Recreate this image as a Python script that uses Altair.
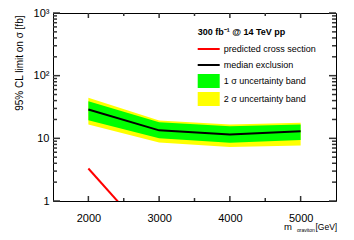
import altair as alt
import pandas as pd

FONT = "Liberation Sans"
W, H = 283, 188

# ---- data ----
mass = [2000, 3000, 4000, 5000]
median = [28.9, 13.4, 11.5, 13.0]
band1_lo = [19.5, 10.0, 8.5, 9.4]
band1_hi = [39.0, 18.1, 15.6, 16.6]
band2_lo = [16.6, 8.6, 7.3, 7.7]
band2_hi = [44.3, 19.3, 16.6, 17.7]
xsec_mass = [2000, 3000]
xsec = [3.3, 0.18]

x_major = [2000, 3000, 4000, 5000]
x_minor = [2500, 3500, 4500]
y_major = [1, 10, 100, 1000]
y_major_labels = ["1", "10", "10²", "10³"]
y_minor = [2, 3, 4, 5, 6, 7, 8, 9,
           20, 30, 40, 50, 60, 70, 80, 90,
           200, 300, 400, 500, 600, 700, 800, 900]

legend_title = "300 fb⁻¹ @ 14 TeV pp"
legend_labels = ["predicted cross section", "median exclusion",
                 "1 σ uncertainty band", "2 σ uncertainty band"]
legend_colors = ["#ff0000", "#000000", "#00ff00", "#ffff00"]
legend_kinds = ["line", "line", "box", "box"]

y_title = "95% CL limit on σ [fb]"
x_title_parts = ["m", "graviton", "[GeV]"]

# ---- tables ----
df = pd.DataFrame({"mass": mass, "median": median,
                   "b1lo": band1_lo, "b1hi": band1_hi,
                   "b2lo": band2_lo, "b2hi": band2_hi})
df_xs = pd.DataFrame({"mass": xsec_mass, "xsec": xsec})
df_leg = pd.DataFrame({"entry": legend_labels})

xs = alt.Scale(domain=[1500, 5500], nice=False, zero=False)
ys = alt.Scale(type="log", domain=[1, 1000], nice=False)

label_expr = " : ".join(
    f"datum.value == {v} ? '{t}'" for v, t in zip(y_major, y_major_labels)
) + " : datum.label"

ax_x_lab = alt.Axis(orient="bottom", values=x_major, format="d", labelFontSize=11,
                    labelPadding=11, ticks=False, tickSize=0, domain=False, grid=False,
                    title=None, labelFont=FONT, labelColor="black")
ax_y_lab = alt.Axis(orient="left", values=y_major, labelExpr=label_expr,
                    labelFontSize=11, labelPadding=4, ticks=False, tickSize=0,
                    domain=False, grid=False, labelFont=FONT, labelColor="black",
                    title=y_title, titleFont=FONT, titleFontSize=10,
                    titleFontWeight="normal", titleColor="black",
                    titleAngle=270, titleAlign="right", titleBaseline="alphabetic",
                    titleX=-31, titleY=2)

yellow = alt.Chart(df).mark_area(color="#ffff00").encode(
    x=alt.X("mass:Q", scale=xs, axis=ax_x_lab),
    y=alt.Y("b2lo:Q", scale=ys, axis=ax_y_lab),
    y2="b2hi:Q")
green = alt.Chart(df).mark_area(color="#00ff00").encode(
    x=alt.X("mass:Q", scale=xs),
    y=alt.Y("b1lo:Q", scale=ys),
    y2="b1hi:Q")
med = alt.Chart(df).mark_line(color="black", strokeWidth=2).encode(
    x=alt.X("mass:Q", scale=xs),
    y=alt.Y("median:Q", scale=ys))
red = alt.Chart(df_xs).mark_line(color="#ff0000", strokeWidth=2, clip=True).encode(
    x=alt.X("mass:Q", scale=xs),
    y=alt.Y("xsec:Q", scale=ys))

# inward-pointing frame ticks (ROOT style), placed through the scales
def xticks(values, length, top):
    y0, y1 = (0, length) if top else (H, H - length)
    return alt.Chart(pd.DataFrame({"v": values})).mark_rule(
        color="#333333", strokeWidth=1.5).encode(
        x=alt.X("v:Q", scale=xs), y=alt.value(y0), y2=alt.value(y1))

def yticks(values, length, right):
    x0, x1 = (W, W - length) if right else (0, length)
    return alt.Chart(pd.DataFrame({"v": values})).mark_rule(
        color="#333333", strokeWidth=1.5).encode(
        y=alt.Y("v:Q", scale=ys), x=alt.value(x0), x2=alt.value(x1))

ticks = [xticks(x_major, 5, False), xticks(x_minor, 3, False),
         xticks(x_major, 5, True), xticks(x_minor, 3, True),
         yticks(y_major, 7, False), yticks(y_minor, 4, False),
         yticks(y_major, 7, True), yticks(y_minor, 4, True)]

line_path = "M-1,-0.143H2.143V0.143H-1Z"
box_path = "M-1,-1H2.143V1H-1Z"
paths = [line_path if k == "line" else box_path for k in legend_kinds]

leg = alt.Legend(title=legend_title, orient="none", legendX=144.7, legendY=15,
                 titleFont=FONT, titleFontSize=9, titleFontWeight="bold",
                 titleColor="black", titlePadding=5,
                 labelFont=FONT, labelFontSize=9, labelColor="black",
                 labelOffset=12, symbolSize=196, rowPadding=4, padding=0,
                 symbolStrokeWidth=0, symbolOpacity=1)
legend_layer = alt.Chart(df_leg).mark_point(filled=True, size=196, opacity=1,
                                            clip=True).encode(
    x=alt.value(-500), y=alt.value(-500),
    color=alt.Color("entry:N", scale=alt.Scale(domain=legend_labels, range=legend_colors),
                    legend=leg),
    shape=alt.Shape("entry:N", scale=alt.Scale(domain=legend_labels, range=paths),
                    legend=leg))

def txt(part, x, y, size):
    return alt.Chart(pd.DataFrame({"t": [part]})).mark_text(
        align="left", baseline="alphabetic", font=FONT, fontSize=size, color="black"
    ).encode(x=alt.value(x), y=alt.value(y), text="t:N")

t1 = txt(x_title_parts[0], 231.0, 216.5, 9.5)
t2 = txt(x_title_parts[1], 244.0, 218.5, 5)
t3 = txt(x_title_parts[2], 262.5, 216.5, 8.5)

chart = alt.layer(yellow, green, med, red, legend_layer, t1, t2, t3, *ticks).properties(
    width=W, height=H,
    padding={"left": 45, "top": 5, "right": 10, "bottom": 31},
    autosize=alt.AutoSizeParams(type="none"),
).configure_view(stroke="black", strokeWidth=1)

chart.save("out.html", embed_options={"renderer": "svg", "actions": False})
